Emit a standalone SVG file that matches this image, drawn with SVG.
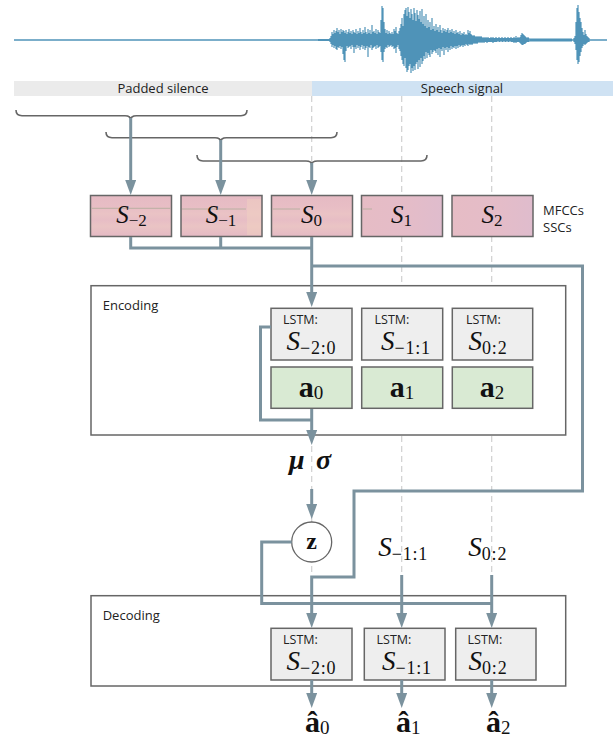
<svg xmlns="http://www.w3.org/2000/svg" width="613" height="740" viewBox="0 0 613 740">
<style>
.lbl{font-family:"Open Sans","DejaVu Sans",sans-serif;font-size:13px;fill:#222}
.sm{font-family:"Open Sans","DejaVu Sans",sans-serif;font-size:12.5px;fill:#222}
.m{font-family:"Liberation Serif","DejaVu Serif",serif;fill:#111}
.it{font-style:italic}
.bf{font-weight:bold}
.frame{fill:#fff;stroke:#666;stroke-width:1.5}
.sbox{stroke:#666;stroke-width:1.5}
.lstm{fill:#eeeeee;stroke:#666;stroke-width:1.5}
.grn{fill:#d9ead3;stroke:#666;stroke-width:1.5}
.brace{fill:none;stroke:#666;stroke-width:1.6}
.guide{stroke:#d0d0d0;stroke-width:1.2;stroke-dasharray:6 4;fill:none}
</style>
<defs>
<marker id="ah" markerUnits="userSpaceOnUse" markerWidth="16" markerHeight="12" refX="7" refY="5.5" orient="auto">
<path d="M0,0 L15,5.5 L0,11 z" fill="#7b929e"/>
</marker>
<linearGradient id="mf" x1="0" y1="0" x2="0" y2="1">
<stop offset="0" stop-color="#e5bac3"/>
<stop offset="0.3" stop-color="#e8bec5"/>
<stop offset="0.45" stop-color="#eac3c5"/>
<stop offset="0.6" stop-color="#e7bdc5"/>
<stop offset="0.75" stop-color="#eac4c4"/>
<stop offset="1" stop-color="#e4b9c4"/>
</linearGradient>
<linearGradient id="mf2" x1="0" y1="0" x2="1" y2="0">
<stop offset="0" stop-color="#e6bcc5"/>
<stop offset="0.6" stop-color="#e4bcc8"/>
<stop offset="1" stop-color="#dfbccd"/>
</linearGradient>
</defs>

<!-- waveform -->
<g id="waveform" fill="none" stroke="#4f93b8">
<path stroke-width="1.4" d="M14 40H607"/>
<rect x="318" y="39" width="12" height="2" fill="#4f93b8" stroke="none"/>
<rect x="530" y="38.5" width="42" height="3" fill="#4f93b8" stroke="none"/>
<path stroke-width="1.2" d="M330 38V42M331 36V44M332 32V47M333 34V45M334 30V48M335 33V46M336 31V49M337 28V50M338 32V47M339 30V48M340 34V46M341 29V49M342 32V47M343 30V54M344 31V60M345 33V62M346 30V51M347 34V46M348 32V48M349 29V47M350 33V46M351 31V49M352 34V45M353 30V47M354 32V53M355 33V47M356 29V49M357 34V45M358 31V48M359 33V46M360 28V50M361 32V47M362 34V45M363 30V49M364 33V46M365 27V50M366 32V48M367 34V46M368 29V57M369 33V47M370 30V48M371 34V45M372 25V50M373 32V48M374 31V47M375 33V46M376 29V49M377 34V45M378 30V48M379 32V47M380 33V46M381 20V52M382 6V60M383 8V62M384 22V52M385 29V49M386 33V47M387 30V48M388 34V45M389 31V47M390 33V46M391 34V45M392 32V47M393 34V46M394 29V49M395 31V48M396 27V53M397 33V47M398 34V45M399 31V49M400 28V51M401 24V56M402 18V60M403 26V64M404 14V66M405 10V58M406 8V68M407 16V72M408 7V70M409 12V66M410 18V64M411 9V73M412 14V68M413 20V71M414 8V66M415 13V70M416 21V64M417 10V62M418 15V69M419 19V60M420 11V67M421 22V58M422 9V64M423 24V61M424 16V56M425 26V59M426 14V52M427 28V58M428 20V53M429 27V55M430 22V57M431 30V50M432 18V54M433 29V52M434 26V50M435 31V51M436 24V53M437 30V49M438 27V55M439 32V48M440 25V57M441 30V49M442 33V51M443 28V47M444 31V55M445 29V48M446 32V50M447 30V47M448 28V52M449 33V48M450 30V50M451 32V46M452 29V49M453 33V47M454 31V48M455 34V46M456 30V49M457 33V46M458 32V48M459 34V45M460 31V47M461 35V46M462 33V45M463 34V47M464 32V45M465 35V46M466 34V44M467 35V45M468 30V46M469 33V44M470 31V45M471 34V44M472 35V45M473 36V44M474 35V43M475 36V44M476 37V43M477 36V44M478 37V43M479 36V42M480 37V43M481 36V42M482 37V43M483 38V42M484 37V43M485 38V42M486 37V42M487 38V43M488 37V42M489 38V42M490 38V42M491 37V42M492 38V42M493 37V43M494 38V42M495 38V42M496 37V42M497 38V42M498 38V41M499 37V42M500 38V42M501 38V41M502 37V42M503 38V42M504 38V41M505 37V42M506 38V42M507 38V41M508 37V42M509 38V42M510 38V41M511 37V42M512 38V42M513 38V42M514 37V43M515 38V42M516 36V43M517 38V42M518 37V42M519 38V42M520 37V43M521 35V44M522 33V45M523 34V45M524 35V44M525 36V44M526 37V43M527 38V42M528 37V42M529 38V42M574 38V42M575 36V44M576 22V50M577 8V60M578 5V64M579 12V62M580 18V56M581 22V52M582 28V48M583 32V46M584 35V44M585 30V45M586 34V44M587 36V43M588 37V42M589 38V42"/>
</g>

<!-- label bars -->
<g id="bars">
<rect x="14" y="81" width="298" height="15" fill="#ebebeb"/>
<rect x="312" y="81" width="301" height="15" fill="#cfe2f3"/>
<text class="lbl" x="163" y="92.5" text-anchor="middle">Padded silence</text>
<text class="lbl" x="462" y="92.5" text-anchor="middle">Speech signal</text>
</g>

<!-- guide lines -->
<g id="guides" class="guide">
<path d="M311.7,96 V575"/>
<path d="M401.7,96 V575"/>
<path d="M491.7,96 V575"/>
</g>

<!-- braces -->
<g id="braces" class="brace">
<path d="M16,110 Q16,115.7 22,115.7 H125 Q130.7,115.7 130.7,120 Q130.7,115.7 136.4,115.7 H241 Q247,115.7 247,110"/>
<path d="M106,132 Q106,137.7 112,137.7 H215 Q220.7,137.7 220.7,142 Q220.7,137.7 226.4,137.7 H331 Q337,137.7 337,132"/>
<path d="M197,155 Q197,161 203,161 H306 Q311.7,161 311.7,165 Q311.7,161 317.4,161 H421 Q427,161 427,155"/>
</g>

<!-- feature boxes -->
<g id="S_m2">
<rect class="sbox" x="90.5" y="195.5" width="81" height="41" fill="url(#mf)"/>
<path d="M91.5,208.3H170.5" stroke="#b9b0a2" stroke-width="1"/>
<text class="m" x="131.5" y="223" text-anchor="middle"><tspan class="it" font-size="25">S</tspan><tspan font-size="17" dy="3">−2</tspan></text>
</g>
<g id="S_m1">
<rect class="sbox" x="181" y="195.5" width="81" height="41" fill="url(#mf)"/>
<path d="M182,209H246" stroke="#b9b0a2" stroke-width="1"/>
<rect x="247" y="199" width="14" height="36" fill="#f1d3c2" opacity="0.45"/>
<text class="m" x="221" y="223" text-anchor="middle"><tspan class="it" font-size="25">S</tspan><tspan font-size="17" dy="3">−1</tspan></text>
</g>
<g id="S_0">
<rect class="sbox" x="271.5" y="195.5" width="81" height="41" fill="url(#mf)"/>
<path d="M272.5,209H300" stroke="#b9b0a2" stroke-width="1"/>
<text class="m" x="311.5" y="223" text-anchor="middle"><tspan class="it" font-size="25">S</tspan><tspan font-size="17" dy="3">0</tspan></text>
</g>
<g id="S_1">
<rect class="sbox" x="361.5" y="195.5" width="81" height="41" fill="url(#mf2)"/>
<path d="M362.5,209H372" stroke="#b9b0a2" stroke-width="1"/>
<text class="m" x="401.5" y="223" text-anchor="middle"><tspan class="it" font-size="25">S</tspan><tspan font-size="17" dy="3">1</tspan></text>
</g>
<g id="S_2">
<rect class="sbox" x="452" y="195.5" width="81" height="41" fill="url(#mf2)"/>
<text class="m" x="492" y="223" text-anchor="middle"><tspan class="it" font-size="25">S</tspan><tspan font-size="17" dy="3">2</tspan></text>
</g>
<g id="legend">
<text class="lbl" x="543" y="215">MFCCs</text>
<text class="lbl" x="543" y="231.5">SSCs</text>
</g>

<!-- encoding -->
<g id="encoding">
<rect class="frame" x="91" y="285.7" width="474.7" height="149.3"/>
<text class="lbl" x="102.7" y="309.5">Encoding</text>
</g>
<g id="enc_lstm0">
<rect class="lstm" x="271" y="308.3" width="81" height="51.7"/>
<text class="sm" x="283" y="324">LSTM:</text>
<text class="m" x="311.5" y="350" text-anchor="middle"><tspan class="it" font-size="27">S</tspan><tspan font-size="18" dy="3.5" letter-spacing="0.8">−2:0</tspan></text>
</g>
<g id="enc_lstm1">
<rect class="lstm" x="361.7" y="308.3" width="81" height="51.7"/>
<text class="sm" x="374.5" y="324">LSTM:</text>
<text class="m" x="406" y="350" text-anchor="middle"><tspan class="it" font-size="27">S</tspan><tspan font-size="18" dy="3.5" letter-spacing="0.8">−1:1</tspan></text>
</g>
<g id="enc_lstm2">
<rect class="lstm" x="452.3" y="308.3" width="80.4" height="51.7"/>
<text class="sm" x="466" y="324">LSTM:</text>
<text class="m" x="488" y="350" text-anchor="middle"><tspan class="it" font-size="27">S</tspan><tspan font-size="18" dy="3.5" letter-spacing="0.8">0:2</tspan></text>
</g>
<g id="a0">
<rect class="grn" x="271" y="367" width="81" height="41.3"/>
<text class="m bf" x="311" y="396.5" text-anchor="middle"><tspan font-size="30">a</tspan><tspan font-size="19" font-weight="normal" dy="2">0</tspan></text>
</g>
<g id="a1">
<rect class="grn" x="361.7" y="367" width="81" height="41.3"/>
<text class="m bf" x="402" y="396.5" text-anchor="middle"><tspan font-size="30">a</tspan><tspan font-size="19" font-weight="normal" dy="2">1</tspan></text>
</g>
<g id="a2">
<rect class="grn" x="452.3" y="367" width="80.4" height="41.3"/>
<text class="m bf" x="492" y="396.5" text-anchor="middle"><tspan font-size="30">a</tspan><tspan font-size="19" font-weight="normal" dy="2">2</tspan></text>
</g>

<!-- latent -->
<g id="musigma">
<text class="m bf it" x="289" y="469" font-size="28">μ</text>
<text class="m bf it" x="316" y="469" font-size="28">σ</text>
</g>
<g id="z">
<circle cx="311.7" cy="542" r="20" fill="#fff" stroke="#666" stroke-width="1.3"/>
<text class="m bf" x="311.7" y="548.5" text-anchor="middle" font-size="24">z</text>
</g>
<g id="in_m1">
<text class="m" x="378.3" y="556"><tspan class="it" font-size="27">S</tspan><tspan font-size="18" dy="3.5" letter-spacing="0.8">−1:1</tspan></text>
</g>
<g id="in_0">
<text class="m" x="468.3" y="556"><tspan class="it" font-size="27">S</tspan><tspan font-size="18" dy="3.5" letter-spacing="0.8">0:2</tspan></text>
</g>

<!-- decoding -->
<g id="decoding">
<rect class="frame" x="91" y="595.7" width="474.7" height="90.3"/>
<text class="lbl" x="102.7" y="619.5">Decoding</text>
</g>
<g id="dec_lstm0">
<rect class="lstm" x="271" y="628.3" width="81" height="51.7"/>
<text class="sm" x="283" y="644.3">LSTM:</text>
<text class="m" x="311.5" y="670" text-anchor="middle"><tspan class="it" font-size="27">S</tspan><tspan font-size="18" dy="3.5" letter-spacing="0.8">−2:0</tspan></text>
</g>
<g id="dec_lstm1">
<rect class="lstm" x="364.3" y="628.3" width="80.7" height="51.7"/>
<text class="sm" x="376.5" y="644.3">LSTM:</text>
<text class="m" x="407" y="670" text-anchor="middle"><tspan class="it" font-size="27">S</tspan><tspan font-size="18" dy="3.5" letter-spacing="0.8">−1:1</tspan></text>
</g>
<g id="dec_lstm2">
<rect class="lstm" x="455.7" y="628.3" width="80.3" height="51.7"/>
<text class="sm" x="467.5" y="644.3">LSTM:</text>
<text class="m" x="488" y="670" text-anchor="middle"><tspan class="it" font-size="27">S</tspan><tspan font-size="18" dy="3.5" letter-spacing="0.8">0:2</tspan></text>
</g>
<g id="outputs">
<text class="m bf" x="305" y="731.5"><tspan font-size="30">â</tspan><tspan font-size="19" font-weight="normal" dy="2">0</tspan></text>
<text class="m bf" x="396" y="731.5"><tspan font-size="30">â</tspan><tspan font-size="19" font-weight="normal" dy="2">1</tspan></text>
<text class="m bf" x="486" y="731.5"><tspan font-size="30">â</tspan><tspan font-size="19" font-weight="normal" dy="2">2</tspan></text>
</g>

<!-- connectors -->
<g id="connectors" fill="none" stroke="#7b929e" stroke-width="3">
<path d="M130.7,118 V187" marker-end="url(#ah)"/>
<path d="M220.7,140 V187" marker-end="url(#ah)"/>
<path d="M311.7,163 V187" marker-end="url(#ah)"/>
<path d="M130.7,237 V248 H311.7 M220.7,237 V248"/>
<path d="M311.7,237 V299" marker-end="url(#ah)"/>
<path d="M311.7,266 H582.5 V491 H354 V577 H311.7 V620" marker-end="url(#ah)"/>
<path d="M271,327 H260.5 V420 H311.7"/>
<path d="M311.7,409 V437" marker-end="url(#ah)"/>
<path d="M311.7,489 V511" marker-end="url(#ah)"/>
<path d="M291.7,542 H261.7 V603.5 H491.7"/>
<path d="M401.7,575 V620" marker-end="url(#ah)"/>
<path d="M491.7,575 V620" marker-end="url(#ah)"/>
<path d="M311.7,680 V700" marker-end="url(#ah)"/>
<path d="M401.7,680 V700" marker-end="url(#ah)"/>
<path d="M491.7,680 V700" marker-end="url(#ah)"/>
</g>
</svg>
